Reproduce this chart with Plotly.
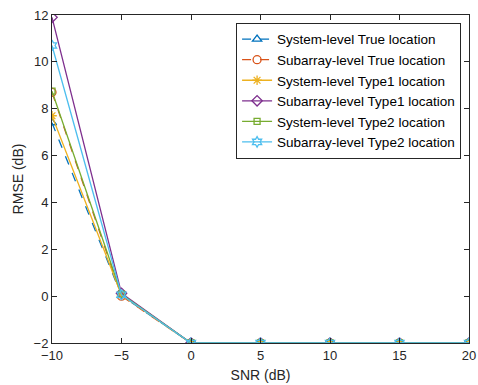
import plotly.graph_objects as go

snr = [-10, -5, 0, 5, 10, 15, 20]
names = ["System-level True location", "Subarray-level True location",
         "System-level Type1 location", "Subarray-level Type1 location",
         "System-level Type2 location", "Subarray-level Type2 location"]
sys_true = [7.4, 0.02, -2, -2, -2, -2, -2]
sub_true = [8.7, 0.0, -2, -2, -2, -2, -2]
sys_t1 = [7.7, 0.05, -2, -2, -2, -2, -2]
sub_t1 = [11.9, 0.12, -2, -2, -2, -2, -2]
sys_t2 = [8.75, 0.08, -2, -2, -2, -2, -2]
sub_t2 = [10.7, 0.06, -2, -2, -2, -2, -2]
series = [sys_true, sub_true, sys_t1, sub_t1, sys_t2, sub_t2]

colors = ["#0072BD", "#D95319", "#EDB120", "#7E2F8E", "#77AC30", "#4DBEEE"]
symbols = ["triangle-up-open", "circle-open", "asterisk-open", "diamond-open",
           "square-open", "hexagram-open"]
dashes = ["dash", "dash", "solid", "solid", "solid", "solid"]
msizes = [8, 8, 8, 8, 6, 8]

fig = go.Figure()
for n, y, c, s, d, ms in zip(names, series, colors, symbols, dashes, msizes):
    fig.add_trace(go.Scatter(
        x=snr, y=y, name=n, mode="lines+markers",
        line=dict(color=c, width=1.3, dash=d),
        marker=dict(symbol=s, size=ms, color=c, line=dict(color=c, width=1.3)),
    ))

font_family = "Liberation Sans, Arial"
axis_common = dict(
    showline=True, linecolor="#262626", linewidth=1, mirror="ticks",
    ticks="inside", ticklen=5, tickcolor="#262626", showgrid=False,
    zeroline=False, automargin=False, ticklabeloverflow="allow",
    tickfont=dict(family=font_family, size=13, color="#262626"),
)
fig.update_xaxes(range=[-10, 20], tickvals=[-10, -5, 0, 5, 10, 15, 20],
                 title=dict(text="SNR (dB)", standoff=8,
                            font=dict(family=font_family, size=14, color="#262626")),
                 **axis_common)
fig.update_yaxes(range=[-2, 12], tickvals=[-2, 0, 2, 4, 6, 8, 10, 12],
                 title=dict(text="RMSE (dB)", standoff=6,
                            font=dict(family=font_family, size=14, color="#262626")),
                 **axis_common)

fig.update_layout(
    width=478, height=385,
    margin=dict(l=52, r=9, t=15, b=42),
    plot_bgcolor="white", paper_bgcolor="white",
    legend=dict(x=0.981, y=0.976, xanchor="right", yanchor="top",
                bgcolor="white", bordercolor="#262626", borderwidth=1,
                font=dict(family=font_family, size=13.5, color="#000000"),
                tracegroupgap=0, itemwidth=30),
    showlegend=True,
)
fig.write_html(
    "out.html",
    config={"displayModeBar": False},
    post_script="document.body.style.margin='0';document.body.style.overflow='hidden';",
)
